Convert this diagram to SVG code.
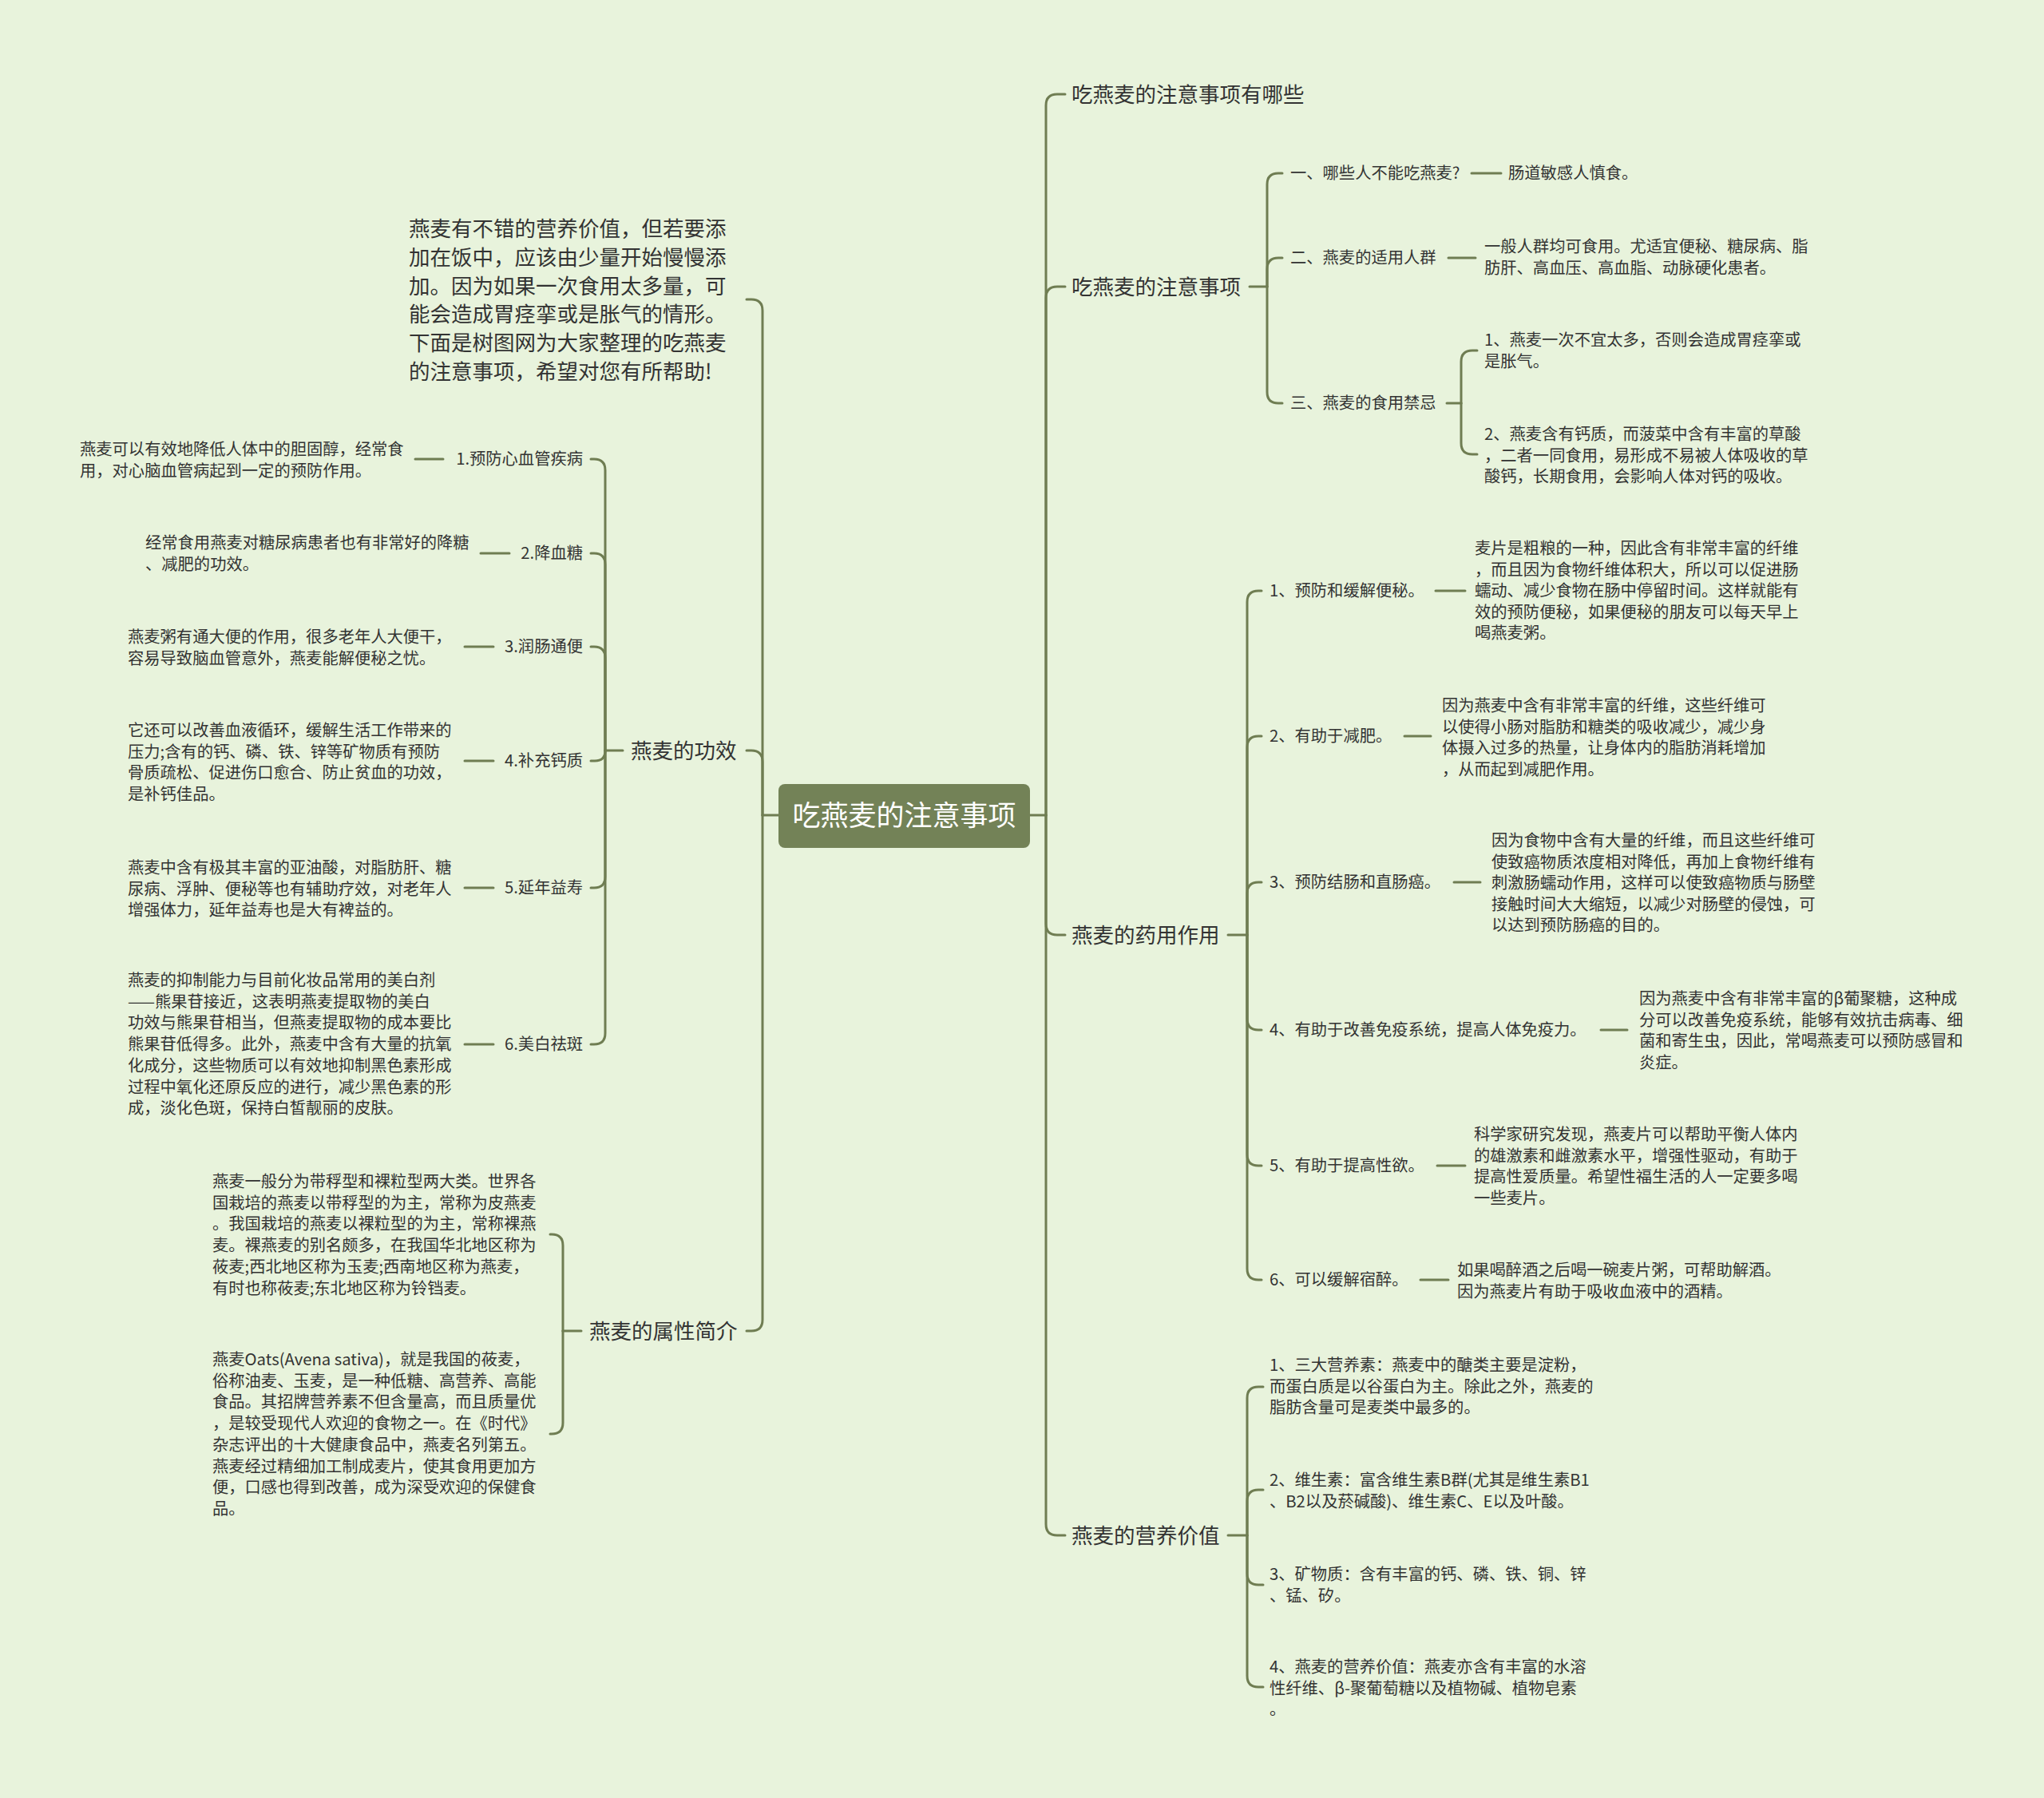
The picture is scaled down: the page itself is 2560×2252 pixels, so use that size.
<svg xmlns="http://www.w3.org/2000/svg" width="2560" height="2252" viewBox="0 0 2560 2252">
<style>
text{font-family:"Noto Sans CJK SC","Microsoft YaHei",sans-serif;fill:#333333}
.t26{font-size:26.5px}
.t20{font-size:20.3px}
.c{fill:none;stroke:#6f7d52;stroke-width:3;stroke-linecap:round}
.root{fill:#738257}
.rt{font-size:35px;fill:#ffffff;text-anchor:middle}
.r{text-anchor:end}
</style>
<rect width="2560" height="2252" fill="#e8f3dc"/>
<g id="connectors" class="c">
<path d="M975,1021 L955,1021"/>
<path d="M955,1021 L955,389 Q955,375 941,375 L935,375"/>
<path d="M955,1021 L955,954 Q955,940 941,940 L935,940"/>
<path d="M955,1021 L955,1653 Q955,1667 941,1667 L935,1667"/>
<path d="M780,940 L758,940"/>
<path d="M758,940 L758,589 Q758,575 744,575 L740,575"/>
<path d="M758,940 L758,707 Q758,693 744,693 L740,693"/>
<path d="M758,940 L758,824 Q758,810 744,810 L740,810"/>
<path d="M758,940 Q758,953 745,953 L740,953"/>
<path d="M758,940 L758,1098 Q758,1112 744,1112 L740,1112"/>
<path d="M758,940 L758,1294 Q758,1308 744,1308 L740,1308"/>
<path d="M520,575 L555,575"/>
<path d="M602,693 L638,693"/>
<path d="M582,810 L618,810"/>
<path d="M582,953 L618,953"/>
<path d="M582,1112 L618,1112"/>
<path d="M582,1308 L618,1308"/>
<path d="M728,1667 L705,1667"/>
<path d="M705,1667 L705,1560 Q705,1546 691,1546 L689,1546"/>
<path d="M705,1667 L705,1782 Q705,1796 691,1796 L689,1796"/>
<path d="M1290,1021 L1310,1021"/>
<path d="M1310,1021 L1310,132 Q1310,118 1324,118 L1334,118"/>
<path d="M1310,1021 L1310,373 Q1310,359 1324,359 L1334,359"/>
<path d="M1310,1021 L1310,1157 Q1310,1171 1324,1171 L1334,1171"/>
<path d="M1310,1021 L1310,1909 Q1310,1923 1324,1923 L1334,1923"/>
<path d="M1565,359 L1587,359"/>
<path d="M1587,359 L1587,231 Q1587,217 1601,217 L1606,217"/>
<path d="M1587,359 L1587,337 Q1587,323 1601,323 L1606,323"/>
<path d="M1587,359 L1587,491 Q1587,505 1601,505 L1606,505"/>
<path d="M1843,217 L1880,217"/>
<path d="M1814,323 L1848,323"/>
<path d="M1812,505 L1830,505"/>
<path d="M1830,505 L1830,453 Q1830,439 1844,439 L1850,439"/>
<path d="M1830,505 L1830,555 Q1830,569 1844,569 L1850,569"/>
<path d="M1538,1171 L1562,1171"/>
<path d="M1562,1171 L1562,754 Q1562,740 1576,740 L1580,740"/>
<path d="M1562,1171 L1562,936 Q1562,922 1576,922 L1580,922"/>
<path d="M1562,1171 L1562,1119 Q1562,1105 1576,1105 L1580,1105"/>
<path d="M1562,1171 L1562,1276 Q1562,1290 1576,1290 L1580,1290"/>
<path d="M1562,1171 L1562,1446 Q1562,1460 1576,1460 L1580,1460"/>
<path d="M1562,1171 L1562,1589 Q1562,1603 1576,1603 L1580,1603"/>
<path d="M1798,740 L1835,740"/>
<path d="M1759,922 L1792,922"/>
<path d="M1821,1105 L1854,1105"/>
<path d="M2005,1290 L2038,1290"/>
<path d="M1800,1460 L1835,1460"/>
<path d="M1779,1603 L1814,1603"/>
<path d="M1538,1923 L1562,1923"/>
<path d="M1562,1923 L1562,1751 Q1562,1737 1576,1737 L1582,1737"/>
<path d="M1562,1923 L1562,1880 Q1562,1866 1576,1866 L1582,1866"/>
<path d="M1562,1923 L1562,1971 Q1562,1985 1576,1985 L1582,1985"/>
<path d="M1562,1923 L1562,2099 Q1562,2113 1576,2113 L1582,2113"/>
</g>
<g id="root">
<rect class="root" x="975" y="982" width="315" height="80" rx="8"/>
<text class="rt" x="1132.5" y="1034">吃燕麦的注意事项</text>
</g>
<g id="intro">
<text class="t26" x="512" y="296"><tspan x="512">燕麦有不错的营养价值，但若要添</tspan><tspan x="512" dy="35.8">加在饭中，应该由少量开始慢慢添</tspan><tspan x="512" dy="35.8">加。因为如果一次食用太多量，可</tspan><tspan x="512" dy="35.8">能会造成胃痉挛或是胀气的情形。</tspan><tspan x="512" dy="35.8">下面是树图网为大家整理的吃燕麦</tspan><tspan x="512" dy="35.8">的注意事项，希望对您有所帮助!</tspan></text>
</g>
<g id="gongxiao"><text class="t26" x="790" y="949.5">燕麦的功效</text></g>
<g id="gx1"><text class="t20 r" x="730" y="582">1.预防心血管疾病</text></g>
<g id="gx1d"><text class="t20" x="100" y="570"><tspan x="100">燕麦可以有效地降低人体中的胆固醇，经常食</tspan><tspan x="100" dy="26.7">用，对心脑血管病起到一定的预防作用。</tspan></text></g>
<g id="gx2"><text class="t20 r" x="730" y="700">2.降血糖</text></g>
<g id="gx2d"><text class="t20" x="182" y="687"><tspan x="182">经常食用燕麦对糖尿病患者也有非常好的降糖</tspan><tspan x="182" dy="26.7">、减肥的功效。</tspan></text></g>
<g id="gx3"><text class="t20 r" x="730" y="817">3.润肠通便</text></g>
<g id="gx3d"><text class="t20" x="160" y="805"><tspan x="160">燕麦粥有通大便的作用，很多老年人大便干，</tspan><tspan x="160" dy="26.7">容易导致脑血管意外，燕麦能解便秘之忧。</tspan></text></g>
<g id="gx4"><text class="t20 r" x="730" y="960">4.补充钙质</text></g>
<g id="gx4d"><text class="t20" x="160" y="922"><tspan x="160">它还可以改善血液循环，缓解生活工作带来的</tspan><tspan x="160" dy="26.7">压力;含有的钙、磷、铁、锌等矿物质有预防</tspan><tspan x="160" dy="26.7">骨质疏松、促进伤口愈合、防止贫血的功效，</tspan><tspan x="160" dy="26.7">是补钙佳品。</tspan></text></g>
<g id="gx5"><text class="t20 r" x="730" y="1119">5.延年益寿</text></g>
<g id="gx5d"><text class="t20" x="160" y="1094"><tspan x="160">燕麦中含有极其丰富的亚油酸，对脂肪肝、糖</tspan><tspan x="160" dy="26.7">尿病、浮肿、便秘等也有辅助疗效，对老年人</tspan><tspan x="160" dy="26.7">增强体力，延年益寿也是大有裨益的。</tspan></text></g>
<g id="gx6"><text class="t20 r" x="730" y="1315">6.美白祛斑</text></g>
<g id="gx6d"><text class="t20" x="160" y="1235"><tspan x="160">燕麦的抑制能力与目前化妆品常用的美白剂</tspan><tspan x="160" dy="26.7">——熊果苷接近，这表明燕麦提取物的美白</tspan><tspan x="160" dy="26.7">功效与熊果苷相当，但燕麦提取物的成本要比</tspan><tspan x="160" dy="26.7">熊果苷低得多。此外，燕麦中含有大量的抗氧</tspan><tspan x="160" dy="26.7">化成分，这些物质可以有效地抑制黑色素形成</tspan><tspan x="160" dy="26.7">过程中氧化还原反应的进行，减少黑色素的形</tspan><tspan x="160" dy="26.7">成，淡化色斑，保持白皙靓丽的皮肤。</tspan></text></g>
<g id="shuxing"><text class="t26" x="738" y="1676.5">燕麦的属性简介</text></g>
<g id="sx1"><text class="t20" x="266" y="1487"><tspan x="266">燕麦一般分为带稃型和裸粒型两大类。世界各</tspan><tspan x="266" dy="26.7">国栽培的燕麦以带稃型的为主，常称为皮燕麦</tspan><tspan x="266" dy="26.7">。我国栽培的燕麦以裸粒型的为主，常称裸燕</tspan><tspan x="266" dy="26.7">麦。裸燕麦的别名颇多，在我国华北地区称为</tspan><tspan x="266" dy="26.7">莜麦;西北地区称为玉麦;西南地区称为燕麦，</tspan><tspan x="266" dy="26.7">有时也称莜麦;东北地区称为铃铛麦。</tspan></text></g>
<g id="sx2"><text class="t20" x="266" y="1710"><tspan x="266">燕麦Oats(Avena sativa)，就是我国的莜麦，</tspan><tspan x="266" dy="26.7">俗称油麦、玉麦，是一种低糖、高营养、高能</tspan><tspan x="266" dy="26.7">食品。其招牌营养素不但含量高，而且质量优</tspan><tspan x="266" dy="26.7">，是较受现代人欢迎的食物之一。在《时代》</tspan><tspan x="266" dy="26.7">杂志评出的十大健康食品中，燕麦名列第五。</tspan><tspan x="266" dy="26.7">燕麦经过精细加工制成麦片，使其食用更加方</tspan><tspan x="266" dy="26.7">便，口感也得到改善，成为深受欢迎的保健食</tspan><tspan x="266" dy="26.7">品。</tspan></text></g>
<g id="b1"><text class="t26" x="1342" y="127.5">吃燕麦的注意事项有哪些</text></g>
<g id="b2"><text class="t26" x="1342" y="368.5">吃燕麦的注意事项</text></g>
<g id="b2a"><text class="t20" x="1616" y="224">一、哪些人不能吃燕麦?</text></g>
<g id="b2ad"><text class="t20" x="1889" y="224">肠道敏感人慎食。</text></g>
<g id="b2b"><text class="t20" x="1616" y="330">二、燕麦的适用人群</text></g>
<g id="b2bd"><text class="t20" x="1859" y="316"><tspan x="1859">一般人群均可食用。尤适宜便秘、糖尿病、脂</tspan><tspan x="1859" dy="26.5">肪肝、高血压、高血脂、动脉硬化患者。</tspan></text></g>
<g id="b2c"><text class="t20" x="1616" y="512">三、燕麦的食用禁忌</text></g>
<g id="b2c1"><text class="t20" x="1859" y="433"><tspan x="1859">1、燕麦一次不宜太多，否则会造成胃痉挛或</tspan><tspan x="1859" dy="26.5">是胀气。</tspan></text></g>
<g id="b2c2"><text class="t20" x="1859" y="551"><tspan x="1859">2、燕麦含有钙质，而菠菜中含有丰富的草酸</tspan><tspan x="1859" dy="26.5">，二者一同食用，易形成不易被人体吸收的草</tspan><tspan x="1859" dy="26.5">酸钙，长期食用，会影响人体对钙的吸收。</tspan></text></g>
<g id="b3"><text class="t26" x="1342" y="1180.5">燕麦的药用作用</text></g>
<g id="b3a"><text class="t20" x="1590" y="747">1、预防和缓解便秘。</text></g>
<g id="b3ad"><text class="t20" x="1847" y="694"><tspan x="1847">麦片是粗粮的一种，因此含有非常丰富的纤维</tspan><tspan x="1847" dy="26.6">，而且因为食物纤维体积大，所以可以促进肠</tspan><tspan x="1847" dy="26.6">蠕动、减少食物在肠中停留时间。这样就能有</tspan><tspan x="1847" dy="26.6">效的预防便秘，如果便秘的朋友可以每天早上</tspan><tspan x="1847" dy="26.6">喝燕麦粥。</tspan></text></g>
<g id="b3b"><text class="t20" x="1590" y="929">2、有助于减肥。</text></g>
<g id="b3bd"><text class="t20" x="1806" y="891"><tspan x="1806">因为燕麦中含有非常丰富的纤维，这些纤维可</tspan><tspan x="1806" dy="26.6">以使得小肠对脂肪和糖类的吸收减少，减少身</tspan><tspan x="1806" dy="26.6">体摄入过多的热量，让身体内的脂肪消耗增加</tspan><tspan x="1806" dy="26.6">，从而起到减肥作用。</tspan></text></g>
<g id="b3c"><text class="t20" x="1590" y="1112">3、预防结肠和直肠癌。</text></g>
<g id="b3cd"><text class="t20" x="1868" y="1060"><tspan x="1868">因为食物中含有大量的纤维，而且这些纤维可</tspan><tspan x="1868" dy="26.6">使致癌物质浓度相对降低，再加上食物纤维有</tspan><tspan x="1868" dy="26.6">刺激肠蠕动作用，这样可以使致癌物质与肠壁</tspan><tspan x="1868" dy="26.6">接触时间大大缩短，以减少对肠壁的侵蚀，可</tspan><tspan x="1868" dy="26.6">以达到预防肠癌的目的。</tspan></text></g>
<g id="b3d"><text class="t20" x="1590" y="1297">4、有助于改善免疫系统，提高人体免疫力。</text></g>
<g id="b3dd"><text class="t20" x="2053" y="1258"><tspan x="2053">因为燕麦中含有非常丰富的β葡聚糖，这种成</tspan><tspan x="2053" dy="26.6">分可以改善免疫系统，能够有效抗击病毒、细</tspan><tspan x="2053" dy="26.6">菌和寄生虫，因此，常喝燕麦可以预防感冒和</tspan><tspan x="2053" dy="26.6">炎症。</tspan></text></g>
<g id="b3e"><text class="t20" x="1590" y="1467">5、有助于提高性欲。</text></g>
<g id="b3ed"><text class="t20" x="1846" y="1428"><tspan x="1846">科学家研究发现，燕麦片可以帮助平衡人体内</tspan><tspan x="1846" dy="26.6">的雄激素和雌激素水平，增强性驱动，有助于</tspan><tspan x="1846" dy="26.6">提高性爱质量。希望性福生活的人一定要多喝</tspan><tspan x="1846" dy="26.6">一些麦片。</tspan></text></g>
<g id="b3f"><text class="t20" x="1590" y="1610">6、可以缓解宿醉。</text></g>
<g id="b3fd"><text class="t20" x="1825" y="1598"><tspan x="1825">如果喝醉酒之后喝一碗麦片粥，可帮助解酒。</tspan><tspan x="1825" dy="26.6">因为燕麦片有助于吸收血液中的酒精。</tspan></text></g>
<g id="b4"><text class="t26" x="1342" y="1932.5">燕麦的营养价值</text></g>
<g id="b4a"><text class="t20" x="1590" y="1717"><tspan x="1590">1、三大营养素：燕麦中的醣类主要是淀粉，</tspan><tspan x="1590" dy="26.6">而蛋白质是以谷蛋白为主。除此之外，燕麦的</tspan><tspan x="1590" dy="26.6">脂肪含量可是麦类中最多的。</tspan></text></g>
<g id="b4b"><text class="t20" x="1590" y="1861"><tspan x="1590">2、维生素：富含维生素B群(尤其是维生素B1</tspan><tspan x="1590" dy="26.6">、B2以及菸碱酸)、维生素C、E以及叶酸。</tspan></text></g>
<g id="b4c"><text class="t20" x="1590" y="1979"><tspan x="1590">3、矿物质：含有丰富的钙、磷、铁、铜、锌</tspan><tspan x="1590" dy="26.6">、锰、矽。</tspan></text></g>
<g id="b4d"><text class="t20" x="1590" y="2095"><tspan x="1590">4、燕麦的营养价值：燕麦亦含有丰富的水溶</tspan><tspan x="1590" dy="26.6">性纤维、β-聚葡萄糖以及植物碱、植物皂素</tspan><tspan x="1590" dy="26.6">。</tspan></text></g>
</svg>
